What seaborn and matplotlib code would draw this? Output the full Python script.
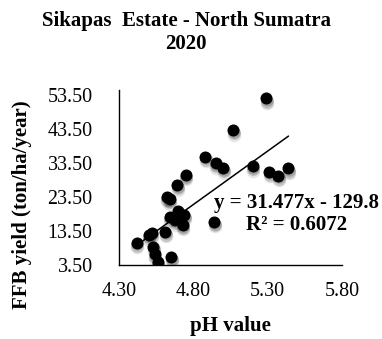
import matplotlib
matplotlib.use("Agg")
import matplotlib.pyplot as plt
from matplotlib.transforms import offset_copy
import numpy as np
import pandas as pd
import seaborn as sns

# Soil pH vs fresh fruit bunch yield, Sikapas Estate 2020
ph_value = [5.29, 5.07, 4.88, 4.95, 5.00, 5.20, 5.31, 5.37, 5.44, 4.75,
            4.69, 4.62, 4.64, 4.64, 4.70, 4.74, 4.73, 4.94, 4.61, 4.52,
            4.50, 4.42, 4.53, 4.54, 4.65, 4.56, 4.68]
ffb_yield = [52.5, 43.2, 35.4, 33.5, 32.0, 32.6, 31.0, 29.8, 31.9, 30.0,
             27.0, 23.6, 22.9, 17.7, 19.4, 18.2, 15.3, 16.2, 13.3, 13.0,
             12.3, 10.1, 8.9, 6.7, 5.9, 4.4, 16.7]

# Linear trendline as reported on the chart
slope = 31.477
intercept = -129.8
r_squared = 0.6072

x_ticks = [4.30, 4.80, 5.30, 5.80]
y_ticks = [3.50, 13.50, 23.50, 33.50, 43.50, 53.50]

df = pd.DataFrame({"ph": ph_value, "ffb": ffb_yield})
x_fit = np.array([min(ph_value), max(ph_value)])
fit = pd.DataFrame({"ph": x_fit, "ffb": slope * x_fit + intercept})

sns.set_theme(style="white")
plt.rcParams["font.family"] = ["Liberation Serif", "DejaVu Serif"]
plt.rcParams["text.color"] = "black"
plt.rcParams["axes.labelcolor"] = "black"

fig = plt.figure(figsize=(3.82, 3.39), dpi=100)
ax = fig.add_axes([119 / 382, 1 - 265 / 339, 223 / 382, 175 / 339])

# trendline sits underneath the markers
sns.lineplot(data=fit, x="ph", y="ffb", ax=ax, color="black", lw=1.1, zorder=1)

# soft drop shadow beneath each marker
for dy, a, s in [(-1.2, 0.18, 80), (-2.2, 0.14, 88), (-3.2, 0.10, 96)]:
    shadow = offset_copy(ax.transData, fig=fig, x=0.4, y=dy, units="points")
    sns.scatterplot(data=df, x="ph", y="ffb", ax=ax, color="black", s=s,
                    alpha=a, linewidth=0, transform=shadow, zorder=1.5,
                    legend=False)

sns.scatterplot(data=df, x="ph", y="ffb", ax=ax, color="black", s=75,
                linewidth=0, zorder=2, legend=False)

ax.set_xlim(4.30, 5.80)
ax.set_ylim(3.50, 55.0)
ax.set_xticks(x_ticks)
ax.set_xticklabels([f"{v:.2f}" for v in x_ticks])
ax.set_yticks(y_ticks)
ax.set_yticklabels([f"{v:.2f}" for v in y_ticks])
ax.tick_params(axis="both", length=0, labelsize=14.4, colors="black")
ax.tick_params(axis="x", pad=12)
ax.tick_params(axis="y", pad=19)

for side in ("top", "right"):
    ax.spines[side].set_visible(False)
for side in ("left", "bottom"):
    ax.spines[side].set_color("black")
    ax.spines[side].set_linewidth(1.0)

ax.set_xlabel("pH value", fontsize=15, fontweight="bold", color="black")
ax.set_ylabel("FFB yield (ton/ha/year)", fontsize=15, fontweight="bold",
              color="black")
ax.xaxis.set_label_coords(0.498, -0.29)
ax.yaxis.set_label_coords(-0.39, 0.343)

fig.text(186 / 382, 1 - 21 / 339, "Sikapas  Estate - North Sumatra",
         ha="center", va="center", fontsize=15, fontweight="bold",
         color="black")
fig.text(186 / 382, 1 - 44 / 339, "2020",
         ha="center", va="center", fontsize=15, fontweight="bold",
         color="black")

ax.text(297 / 382, 1 - 214 / 339,
        f"y = {slope}x - {abs(intercept)}\nR\u00b2 = {r_squared}",
        transform=fig.transFigure, ha="center", va="center",
        multialignment="center", fontsize=15, fontweight="bold",
        linespacing=1.15, color="black", clip_on=False, zorder=3)

fig.savefig("out.png", dpi=100)
